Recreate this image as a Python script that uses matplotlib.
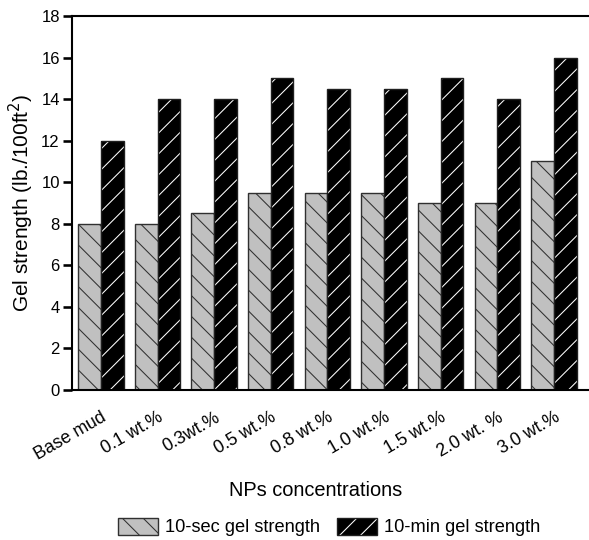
import numpy as np
import matplotlib
matplotlib.use("Agg")
import matplotlib.pyplot as plt
from matplotlib.patches import Patch

plt.rcParams['font.family'] = ['Liberation Sans', 'DejaVu Sans']
plt.rcParams['hatch.linewidth'] = 0.6

categories = ["Base mud", "0.1 wt.%", "0.3wt.%", "0.5 wt.%", "0.8 wt.%",
              "1.0 wt.%", "1.5 wt.%", "2.0 wt. %", "3.0 wt.%"]
gel_10sec = [8, 8, 8.5, 9.5, 9.5, 9.5, 9, 9, 11]
gel_10min = [12, 14, 14, 15, 14.5, 14.5, 15, 14, 16]

x = np.arange(len(categories))
w = 0.4

fig = plt.figure(figsize=(589 / 125, 540 / 125), dpi=125)
ax = fig.add_axes([72 / 589, 1 - 390 / 540, 1 - 72 / 589, (390 - 16) / 540])

# 10-sec bars: grey with dark hatch
ax.bar(x - w / 2, gel_10sec, w, color='#c0c0c0', edgecolor='#303030',
       hatch='\\\\', linewidth=0.8)
# 10-min bars: black with white hatch, then a dark outline on top
ax.bar(x + w / 2, gel_10min, w, color='black', edgecolor='white',
       hatch='//', linewidth=0)
ax.bar(x + w / 2, gel_10min, w, fill=False, edgecolor='#202020', linewidth=0.8)

ax.set_xlim(-0.51, 8.62)
ax.set_ylim(0, 18)
ax.set_yticks(range(0, 19, 2))
ax.set_xticks(x)
ax.set_xticklabels(categories, rotation=30, ha='right', rotation_mode='anchor',
                   fontsize=10.2)
ax.tick_params(axis='x', length=0, pad=11)
ax.tick_params(axis='y', direction='out', length=5, width=1.5, labelsize=9.6, pad=2)
ax.spines['right'].set_visible(False)
for s in ['left', 'bottom', 'top']:
    ax.spines[s].set_linewidth(1.2)

ax.set_ylabel("Gel strength (lb./100ft$^2$)", fontsize=12, labelpad=3)
ax.set_xlabel("NPs concentrations", fontsize=11.5)
ax.xaxis.set_label_coords((316 - 72) / (589 - 72), -(491 - 390) / (390 - 16),
                          transform=ax.transAxes)
ax.xaxis.label.set_va('center')

h1 = Patch(facecolor='#c0c0c0', edgecolor='#303030', hatch='\\\\', linewidth=0.8)
h2a = Patch(facecolor='black', edgecolor='white', hatch='//', linewidth=0)
h2b = Patch(fill=False, edgecolor='#202020', linewidth=0.8)
fig.legend([h1, (h2a, h2b)], ["10-sec gel strength", "10-min gel strength"],
           loc='center', bbox_to_anchor=(329 / 589, 1 - 527 / 540), ncol=2,
           frameon=False, fontsize=10.5, handlelength=2.2, handleheight=1.1,
           handletextpad=0.4, columnspacing=0.9)

fig.savefig("out.png", dpi=125)
